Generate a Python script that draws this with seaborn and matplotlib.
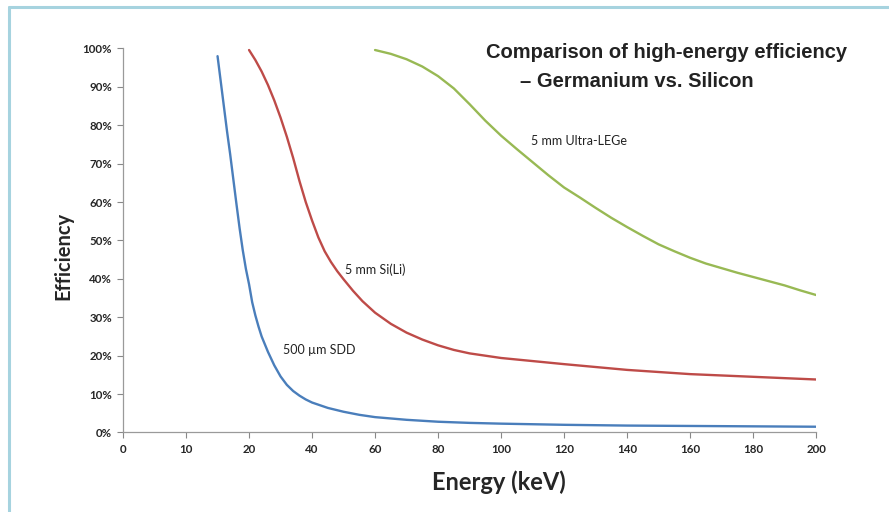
import numpy as np
import pandas as pd
import matplotlib
matplotlib.use("Agg")
import matplotlib.pyplot as plt
from matplotlib.lines import Line2D
import seaborn as sns

# ---- data (energy in keV, efficiency in %) ----
sdd_energy = [15, 15.5, 16, 16.5, 17, 17.5, 18, 18.5, 19, 19.5, 20, 21, 22, 23, 24, 26, 28, 30,
              32, 34, 36, 38, 40, 45, 50, 55, 60, 70, 80, 90, 100, 120, 140, 160, 180, 200]
sdd_eff = [98, 91.5, 85, 78.5, 72.5, 66, 59.5, 53.2, 47.5, 42.6, 38.6, 33.9, 30.5, 27.6, 25, 21, 17.5, 14.6,
           12.4, 10.8, 9.6, 8.6, 7.8, 6.4, 5.4, 4.6, 4.0, 3.3, 2.8, 2.5, 2.3, 2.0, 1.8, 1.7, 1.6, 1.5]

sili_energy = [20, 22, 24, 26, 28, 30, 32, 34, 36, 38, 40, 42, 44, 46, 48, 50, 53, 56, 60, 65,
               70, 75, 80, 85, 90, 100, 110, 120, 140, 160, 180, 200]
sili_eff = [99.6, 97, 94, 90.5, 86.5, 82, 77, 71.5, 65.5, 60, 55.2, 50.8, 47.2, 44.4, 42.0, 39.9,
            36.9, 34.2, 31.2, 28.3, 26.0, 24.2, 22.7, 21.5, 20.6, 19.4, 18.6, 17.8, 16.3, 15.2, 14.5, 13.8]

lege_energy = [60, 65, 70, 75, 80, 85, 90, 95, 100, 105, 110, 115, 120, 125, 130, 135, 140, 145,
               150, 155, 160, 165, 170, 175, 180, 185, 190, 195, 200]
lege_eff = [99.6, 98.6, 97.2, 95.3, 92.8, 89.6, 85.5, 81.2, 77.3, 73.8, 70.4, 67.0, 63.8, 61.2,
            58.5, 55.9, 53.5, 51.2, 49.0, 47.2, 45.5, 44.0, 42.8, 41.6, 40.5, 39.4, 38.3, 37.0, 35.8]

x_ticks = [0, 10, 20, 40, 60, 80, 100, 120, 140, 160, 180, 200]
y_ticks = [0, 10, 20, 30, 40, 50, 60, 70, 80, 90, 100]

series = [
    ("500 µm SDD", sdd_energy, sdd_eff, "#4a7ebb"),
    ("5 mm Si(Li)", sili_energy, sili_eff, "#be4b48"),
    ("5 mm Ultra-LEGe", lege_energy, lege_eff, "#98b954"),
]


# the original axis is evenly spaced but labelled 0,10,20,40,...,200
def fwd(e):
    e = np.asarray(e, dtype=float)
    return np.where(e < 20, 2 * e, e + 20)


def inv(p):
    p = np.asarray(p, dtype=float)
    return np.where(p < 40, p / 2, p - 20)


sns.set_style("white")
plt.rcParams['font.family'] = ['Lato', 'DejaVu Sans']

fig = plt.figure(figsize=(8.89, 5.12), dpi=100)
ax = fig.add_axes([0.1384, 0.1553, 0.918 - 0.1384, 0.9053 - 0.1553])

for name, e, v, c in series:
    df = pd.DataFrame({"energy": e, "eff": v})
    sns.lineplot(data=df, x="energy", y="eff", color=c, linewidth=1.7, ax=ax)

ax.set_xscale('function', functions=(fwd, inv))
ax.set_xlim(0, 200)
ax.set_ylim(0, 100)
ax.set_xticks(x_ticks)
ax.set_xticklabels([str(t) for t in x_ticks], fontweight='bold', fontsize=8.3)
ax.set_yticks(y_ticks)
ax.set_yticklabels([f"{t}%" for t in y_ticks], fontweight='bold', fontsize=8.3)
ax.tick_params(axis='both', which='both', direction='out', length=4, width=0.8,
               color='#888888', pad=4, bottom=True, left=True)
ax.minorticks_off()

for s in ['top', 'right']:
    ax.spines[s].set_visible(False)
for s in ['left', 'bottom']:
    ax.spines[s].set_color('#9a9a9a')
    ax.spines[s].set_linewidth(0.9)

ax.set_xlabel("Energy (keV)", fontsize=17, fontweight='bold')
ax.set_ylabel("Efficiency", fontsize=14.5, fontweight='bold')
ax.xaxis.set_label_coords(0.5426, -0.098)
ax.yaxis.set_label_coords(-0.072, 0.461)

# curve labels
ax.text(109.5, 75.9, "5 mm Ultra-LEGe", fontsize=9, ha='left', va='center', color='#222222')
ax.text(50.5, 42.3, "5 mm Si(Li)", fontsize=9, ha='left', va='center', color='#222222')
ax.text(30.8, 21.5, "500 µm SDD", fontsize=9, ha='left', va='center', color='#222222')

# title block
fig.text(0.5467, 0.898, "Comparison of high-energy efficiency", fontsize=14.5, fontweight='bold',
         family=['Liberation Sans', 'DejaVu Sans'], ha='left', va='center', color='#222222')
fig.text(0.585, 0.840, "– Germanium vs. Silicon", fontsize=14.5, fontweight='bold',
         family=['Liberation Sans', 'DejaVu Sans'], ha='left', va='center', color='#222222')

# light blue frame at the top and left
fig.add_artist(Line2D([9 / 889, 9 / 889], [0, 1 - 7 / 512], color='#a6d3df', linewidth=2.2))
fig.add_artist(Line2D([9 / 889, 1], [1 - 7 / 512, 1 - 7 / 512], color='#a6d3df', linewidth=2.2))

plt.savefig("out.png", dpi=100)
plt.close()
